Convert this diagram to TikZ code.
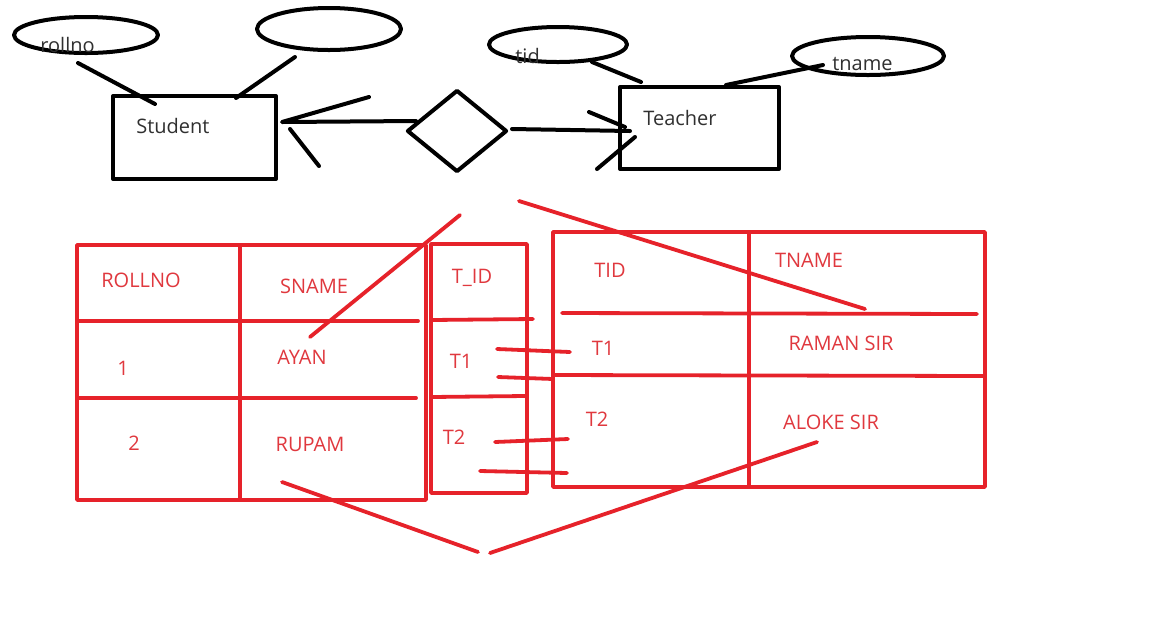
\documentclass[tikz,border=0pt]{standalone}
\usepackage{fontspec}
\setmainfont{Open Sans}
\usepackage{tikz}
\usetikzlibrary{shapes.geometric}
\usetikzlibrary{calc}
\definecolor{inkred}{RGB}{230,34,42}
\definecolor{txtred}{RGB}{224,56,62}
\definecolor{txtgray}{RGB}{48,48,48}

\begin{document}
\begin{tikzpicture}[x=0.5pt,y=-0.5pt,line cap=round,line join=round,
    ink/.style={line width=2pt,color=black},
    redink/.style={line width=1.9pt,color=inkred},
    attr/.style={draw,ink,ellipse,inner sep=0pt},
    entity/.style={draw,ink,rectangle,inner sep=0pt},
    lbl/.style={anchor=base west,text=txtgray,inner sep=0pt,font=\fontsize{10}{12}\selectfont},
    cell/.style={text=txtred,inner sep=0pt,text height=7.1pt,text depth=0pt,font=\fontsize{10}{12}\selectfont}]
      \useasboundingbox[fill=white] (0,0) rectangle (1152,639);
      \node[attr,minimum width=72pt,minimum height=18pt] (rollno) at (86,35) {};
      \node[attr,minimum width=72pt,minimum height=21pt] (noname) at (329,29) {};
      \node[attr,minimum width=69pt,minimum height=17.5pt] (tid) at (558,44.5) {};
      \node[attr,minimum width=76pt,minimum height=19pt] (tname) at (868,56) {};
      \node[entity,minimum width=81.5pt,minimum height=41.5pt] (student) at (194.5,137.5) {};
      \node[entity,minimum width=79.5pt,minimum height=41pt] (teacher) at (699.5,128) {};
      \node[draw,ink,diamond,inner sep=0pt,minimum width=50pt,minimum height=41pt] (rel) at (457,131) {};
      \node[lbl] (rollnolbl) at (40,52) {rollno};
      \node[lbl] (studentlbl) at (136,133) {Student};
      \node[lbl] (teacherlbl) at (643,125) {Teacher};
      \node[lbl] (tidlbl) at (515,63) {tid};
      \node[lbl] (tnamelbl) at (832,70) {tname};
      \draw[ink] ($(rollno.south)+(-8,8)$) -- ($(student.north west)+(44,10)$);
      \draw[ink] ($(noname.south)+(-34,5)$) -- ($(student.north west)+(125,4)$);
      \draw[ink] ($(tid.south)+(34,-2)$) -- ($(teacher.north west)+(23,-3)$);
      \draw[ink] ($(tname.south)+(-45,-12)$) -- ($(teacher.north west)+(108,0)$);
      \draw[ink] ($(rel.west)+(11,-10)$) -- ($(student.east)+(4,-15.5)$) coordinate (stip) -- ++(87,-25);
      \draw[ink] ($(stip)+(8,7)$) -- ++(29,37);
      \draw[ink] ($(rel.east)+(3,-2)$) -- ($(teacher.west)+(12,3)$) coordinate (ttip);
      \draw[ink] ($(ttip)+(-41,-19)$) -- ($(ttip)+(-5,-4)$);
      \draw[ink] ($(ttip)+(5,6)$) -- ++(-38,32);
      \draw[redink] (77,245) rectangle (426,500);
      \draw[redink] (240,245) -- (240,500);
      \draw[redink] (77,321) -- (418,321);
      \draw[redink] (77,398) -- (416,398);
      \draw[redink] (431,244) rectangle (527,493);
      \draw[redink] (431,320) -- (533,319);
      \draw[redink] (431,397) -- (525,396);
      \draw[redink] (553,232) rectangle (985,487);
      \draw[redink] (749,232) -- (749,487);
      \draw[redink] (562,313) -- (977,314);
      \draw[redink] (553,375) -- (985,376);
      \draw[redink] (497,349) -- (570,352);
      \draw[redink] (498,377) -- (553,379);
      \draw[redink] (495,442) -- (568,439);
      \draw[redink] (480,471) -- (567,473);
      \draw[redink] (460,215) -- (310,337);
      \draw[redink] (519,201) -- (865,309);
      \draw[redink] (282,482) -- (478,552);
      \draw[redink] (490,553) -- (817,442);
      \node[cell] (rollnohd) at (141,280) {ROLLNO};
      \node[cell] (snamehd) at (314,286) {SNAME};
      \node[cell] (tidcolhd) at (472,276) {T\_ID};
      \node[cell] (rone) at (123,368) {1};
      \node[cell] (ayan) at (302,357) {AYAN};
      \node[cell] (tone) at (461,361) {T1};
      \node[cell] (rtwo) at (134,443) {2};
      \node[cell] (rupam) at (310,444) {RUPAM};
      \node[cell] (ttwo) at (454,437) {T2};
      \node[cell] (tidhd) at (610,270) {TID};
      \node[cell] (tnamehd) at (809,260) {TNAME};
      \node[cell] (tidone) at (603,348) {T1};
      \node[cell] (raman) at (841,343) {RAMAN SIR};
      \node[cell] (tidtwo) at (597,419) {T2};
      \node[cell] (aloke) at (831,422) {ALOKE SIR};
    \end{tikzpicture}
\end{document}
